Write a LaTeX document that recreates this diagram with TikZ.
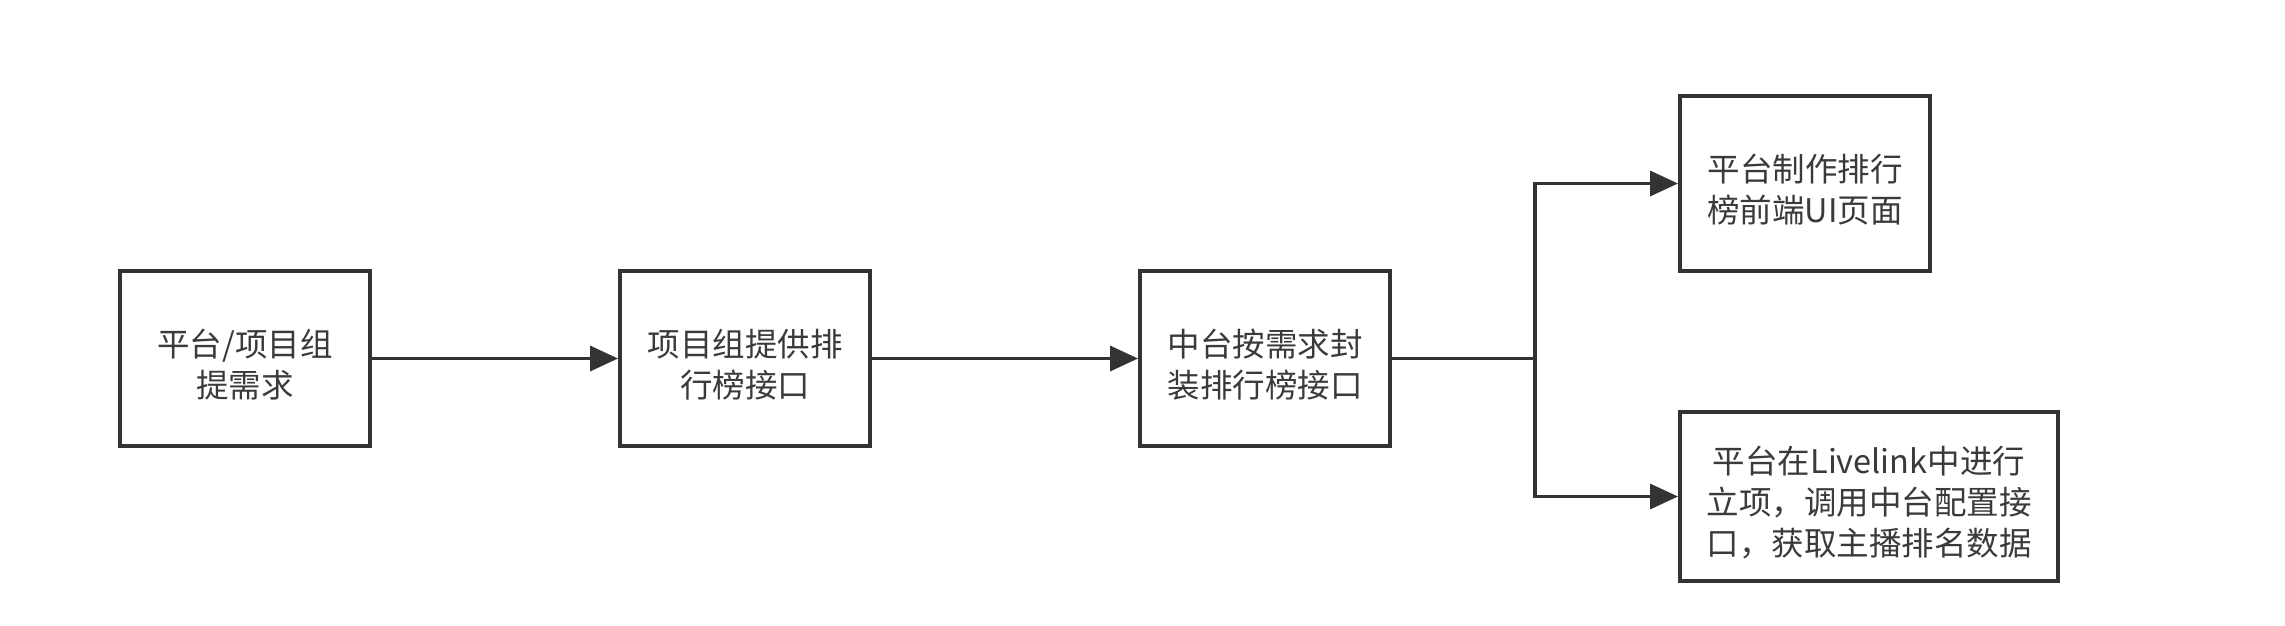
\documentclass[tikz,border=0pt]{standalone}
\usepackage{fontspec}
\newfontfamily\cjk{Noto Sans CJK SC}
\usetikzlibrary{arrows.meta}
\definecolor{linec}{HTML}{333333}
\definecolor{textc}{HTML}{3A3A3A}
\tikzset{
  stepbox/.style={draw=linec, line width=4pt, fill=white, inner sep=0pt,
    minimum height=175pt},
  boxtext/.style={inner sep=0pt, align=center, text=textc,
    font=\cjk\fontsize{32.5pt}{41pt}\selectfont},
  conn/.style={draw=linec, line width=3.5pt},
  arr/.style={conn, -{Triangle[length=28pt,width=25pt]}}
}
\begin{document}
\begin{tikzpicture}[x=1pt,y=-1pt]
\useasboundingbox[fill=white] (0,0) rectangle (2285,625);
\node[stepbox, minimum width=250pt] (b1) at (245,358.5) {};
\node[stepbox, minimum width=250pt] (b2) at (745,358.5) {};
\node[stepbox, minimum width=250pt] (b3) at (1265,358.5) {};
\node[stepbox, minimum width=250pt] (b4) at (1805,183.5) {};
\node[stepbox, minimum width=378pt, minimum height=169pt] (b5) at (1869,496.5) {};
\node[boxtext] (t1) at ([yshift=-6pt]b1.center) {平台/项目组\\提需求};
\node[boxtext] (t2) at ([yshift=-6pt]b2.center) {项目组提供排\\行榜接口};
\node[boxtext] (t3) at ([yshift=-6pt]b3.center) {中台按需求封\\装排行榜接口};
\node[boxtext] (t4) at ([yshift=-6pt]b4.center) {平台制作排行\\榜前端UI页面};
\node[boxtext] (t5) at ([yshift=-6pt]b5.center) {平台在Livelink中进行\\立项，调用中台配置接\\口，获取主播排名数据};
\coordinate (j) at (1535,358.5);
\draw[arr] (b1) -- (b2);
\draw[arr] (b2) -- (b3);
\draw[conn] (b3.east) -- (j);
\draw[arr] (j) |- (b4.west);
\draw[arr] (j) |- (b5.west);
\end{tikzpicture}
\end{document}
